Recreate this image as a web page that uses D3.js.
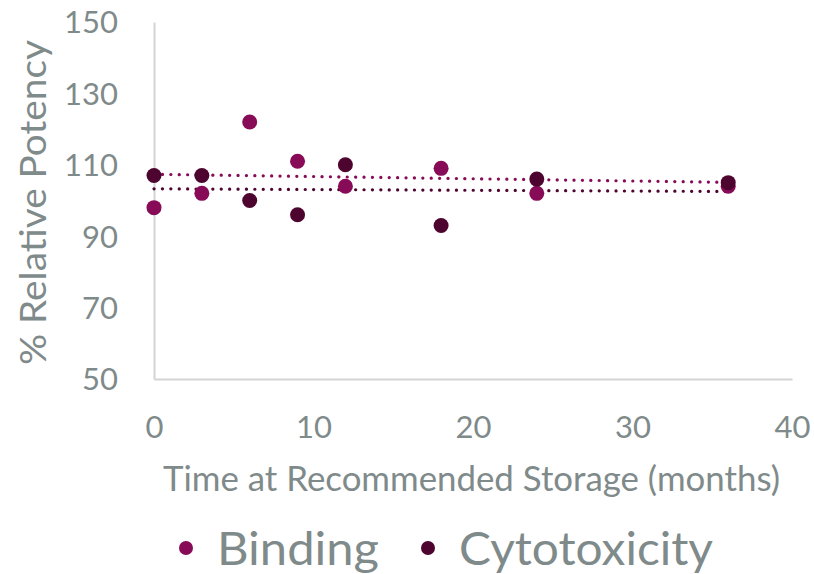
<!DOCTYPE html>
<html>
<head>
<meta charset="utf-8">
<script src="https://cdn.jsdelivr.net/npm/d3@7"></script>
<style>
  body { margin: 0; background: #fff; }
  svg text { font-family: Lato, "Open Sans", sans-serif; fill: #7f8a8a; }
</style>
</head>
<body>
<div id="chart"></div>
<script>
// Data
const months = [0, 3, 6, 9, 12, 18, 24, 36];
const binding = [98, 102, 122, 111, 104, 109, 102, 104];
const cytotoxicity = [107, 107, 100, 96, 110, 93, 106, 105];
const seriesNames = ["Binding", "Cytotoxicity"];
const seriesColors = ["#870b57", "#4d0530"];
const xTicks = [0, 10, 20, 30, 40];
const yTicks = [50, 70, 90, 110, 130, 150];

const width = 814, height = 574;
const margin = { top: 22, right: 22, bottom: 195, left: 154 };
const plotW = width - margin.left - margin.right;
const plotH = height - margin.top - margin.bottom;

const svg = d3.select("#chart").append("svg")
    .attr("width", width)
    .attr("height", height);

const g = svg.append("g")
    .attr("transform", `translate(${margin.left},${margin.top})`);

const x = d3.scaleLinear().domain([0, 40]).range([0, plotW]);
const y = d3.scaleLinear().domain([50, 150]).range([plotH, 0]);

// axes (no tick marks, light grey domain line)
const xAxis = g.append("g")
    .attr("transform", `translate(0,${plotH})`)
    .call(d3.axisBottom(x).tickValues(xTicks).tickSize(0).tickPadding(37));
const yAxis = g.append("g")
    .call(d3.axisLeft(y).tickValues(yTicks).tickSize(0).tickPadding(36));

[xAxis, yAxis].forEach(a => {
    a.select(".domain").attr("stroke", "#d4d4d4").attr("stroke-width", 2);
    a.selectAll("text").style("font-size", "31px").attr("fill", "#7f8a8a");
});
yAxis.selectAll("text").attr("dy", "0.35em");
xAxis.selectAll("text").attr("dy", "0.71em");

// axis titles
svg.append("text")
    .attr("x", 163)
    .attr("y", 491)
    .attr("textLength", 617)
    .attr("lengthAdjust", "spacingAndGlyphs")
    .style("font-size", "34px")
    .text("Time at Recommended Storage (months)");

svg.append("text")
    .attr("transform", `translate(46,365) rotate(-90)`)
    .attr("textLength", 325)
    .attr("lengthAdjust", "spacingAndGlyphs")
    .style("font-size", "37px")
    .text("% Relative Potency");

// linear trend lines
const seriesData = [binding, cytotoxicity];
seriesData.forEach((vals, si) => {
    const mx = d3.mean(months), my = d3.mean(vals);
    const slope = d3.sum(months, (m, i) => (m - mx) * (vals[i] - my)) /
                  d3.sum(months, m => (m - mx) * (m - mx));
    const icpt = my - slope * mx;
    const ends = [d3.min(months), d3.max(months)];
    g.append("line")
        .attr("x1", x(ends[0])).attr("y1", y(icpt + slope * ends[0]))
        .attr("x2", x(ends[1])).attr("y2", y(icpt + slope * ends[1]))
        .attr("stroke", seriesColors[si])
        .attr("stroke-width", 3.2)
        .attr("stroke-linecap", "round")
        .attr("stroke-dasharray", "0.1 8.3");
});

// points
seriesData.forEach((vals, si) => {
    g.selectAll(".pt" + si)
        .data(months.map((m, i) => ({ m: m, v: vals[i] })))
        .enter()
        .append("circle")
        .attr("class", "pt" + si)
        .attr("cx", d => x(d.m))
        .attr("cy", d => y(d.v))
        .attr("r", 7.5)
        .attr("fill", seriesColors[si]);
});

// legend
const legendX = [186, 428];
const legendTextW = [162, 254];
const legend = svg.selectAll(".legend")
    .data(seriesNames)
    .enter()
    .append("g")
    .attr("class", "legend")
    .attr("transform", (d, i) => `translate(${legendX[i]},548)`);

legend.append("circle")
    .attr("r", 7)
    .attr("fill", (d, i) => seriesColors[i]);

legend.append("text")
    .attr("x", 31)
    .attr("y", 17)
    .attr("textLength", (d, i) => legendTextW[i])
    .attr("lengthAdjust", "spacingAndGlyphs")
    .style("font-size", "47px")
    .text(d => d);
</script>
</body>
</html>
